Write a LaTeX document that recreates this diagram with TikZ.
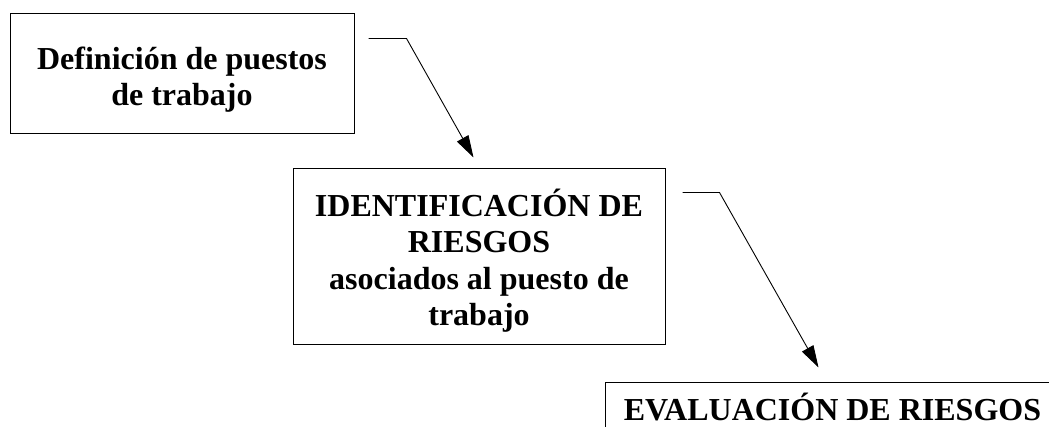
\documentclass[tikz,border=0pt]{standalone}
\usepackage{fontspec}
\setmainfont{Liberation Serif}
\usetikzlibrary{arrows.meta,calc}
\newcommand{\topstrut}[1]{\rule{0pt}{#1}}
\tikzset{
  box/.style={draw, line width=1pt, rectangle, inner sep=0pt, align=center,
    font=\fontsize{32}{36.5}\selectfont\bfseries},
  conn/.style={line width=0.9pt, -{Triangle[length=22pt,width=13pt]}}
}
\begin{document}
\begin{tikzpicture}[x=1pt,y=-1pt]
\path[use as bounding box] (0,0) rectangle (1049,427);
\clip (0,0) rectangle (1049,427);
\node[box, minimum width=344pt, minimum height=120pt] (b1) at (182,74)
  {\topstrut{34pt}Definición de puestos\\de trabajo};
\node[box, minimum width=372pt, minimum height=176pt] (b2) at (479,257)
  {\topstrut{35pt}IDENTIFICACIÓN DE\\RIESGOS\\asociados al puesto de\\trabajo};
\node[box, minimum width=455pt, minimum height=51pt] (b3) at (832.5,407.5)
  {EVALUACIÓN DE RIESGOS};
\coordinate (c1s) at ($(b1.north east)+(14,25)$);
\coordinate (c1k) at ($(b1.north east)+(52,25)$);
\coordinate (c1e) at ($(b2.north west)+(181,-11)$);
\coordinate (c2s) at ($(b2.north east)+(17,24)$);
\coordinate (c2k) at ($(b2.north east)+(54,24)$);
\coordinate (c2e) at ($(b3.north west)+(214,-14)$);
\draw[conn] (c1s) -- (c1k) -- (c1e);
\draw[conn] (c2s) -- (c2k) -- (c2e);
\end{tikzpicture}
\end{document}
